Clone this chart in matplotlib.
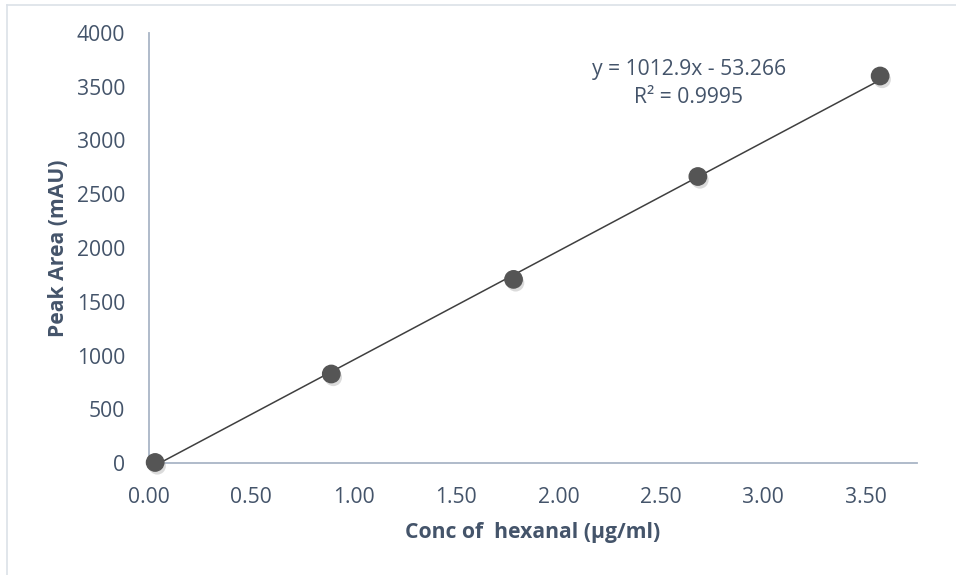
import matplotlib
matplotlib.use("Agg")
import matplotlib.pyplot as plt
import matplotlib.patheffects as pe
import numpy as np

# calibration standards for hexanal
conc = [0.03, 0.89, 1.78, 2.68, 3.57]
peak_area = [5, 828, 1708, 2665, 3600]

# linear fit reported on the chart
slope = 1012.9
intercept = -53.266
r_squared = 0.9995

x_ticks = [0.0, 0.5, 1.0, 1.5, 2.0, 2.5, 3.0, 3.5]
y_ticks = [0, 500, 1000, 1500, 2000, 2500, 3000, 3500, 4000]

text_col = "#44546A"
axis_col = "#A9B5C6"
fs = 15.2

plt.rcParams["font.family"] = ["Open Sans", "DejaVu Sans"]

fig = plt.figure(figsize=(9.56, 5.75), dpi=100)
ax = fig.add_axes([149 / 956, 1 - 463 / 575, (917 - 149) / 956, (463 - 33) / 575])

# chart area border (only left/top edges fall inside the frame)
fig.add_artist(plt.Line2D([7 / 956, 7 / 956], [0, 1 - 5 / 575], color="#DCE1E8", lw=1.2))
fig.add_artist(plt.Line2D([7 / 956, 1], [1 - 5 / 575, 1 - 5 / 575], color="#DCE1E8", lw=1.2))

xs = np.array([conc[0], conc[-1]])
ax.plot(xs, slope * xs + intercept, color="#3F3F3F", lw=1.1, zorder=2, clip_on=True)

ax.plot(conc, peak_area, "o", ms=12.5, color="#555555", mec="#555555", zorder=3, clip_on=False,
        path_effects=[pe.SimplePatchShadow(offset=(1.5, -2.5), shadow_rgbFace="#9A9A9A", alpha=0.35),
                      pe.Normal()])

ax.set_xlim(0, 3.75)
ax.set_ylim(0, 4000)
ax.set_xticks(x_ticks)
ax.set_xticklabels([f"{v:.2f}" for v in x_ticks])
ax.set_yticks(y_ticks)

for s in ["top", "right"]:
    ax.spines[s].set_visible(False)
for s in ["left", "bottom"]:
    ax.spines[s].set_color(axis_col)
    ax.spines[s].set_linewidth(1.3)

ax.tick_params(axis="both", length=0, labelsize=fs, labelcolor=text_col)
ax.tick_params(axis="y", pad=17)
ax.tick_params(axis="x", pad=17.5)

ax.set_xlabel("Conc of  hexanal (\u00b5g/ml)", fontsize=fs, fontweight="bold", color=text_col, labelpad=10)
ax.set_ylabel("Peak Area (mAU)", fontsize=fs, fontweight="bold", color=text_col, labelpad=6)

ax.text(689 / 956, 1 - 70 / 575, f"y = {slope}x - {abs(intercept)}", transform=fig.transFigure,
        ha="center", va="center", fontsize=fs, color=text_col)
ax.text(689 / 956, 1 - 98 / 575, f"R\u00b2 = {r_squared}", transform=fig.transFigure,
        ha="center", va="center", fontsize=fs, color=text_col)

fig.savefig("out.png", dpi=100)
